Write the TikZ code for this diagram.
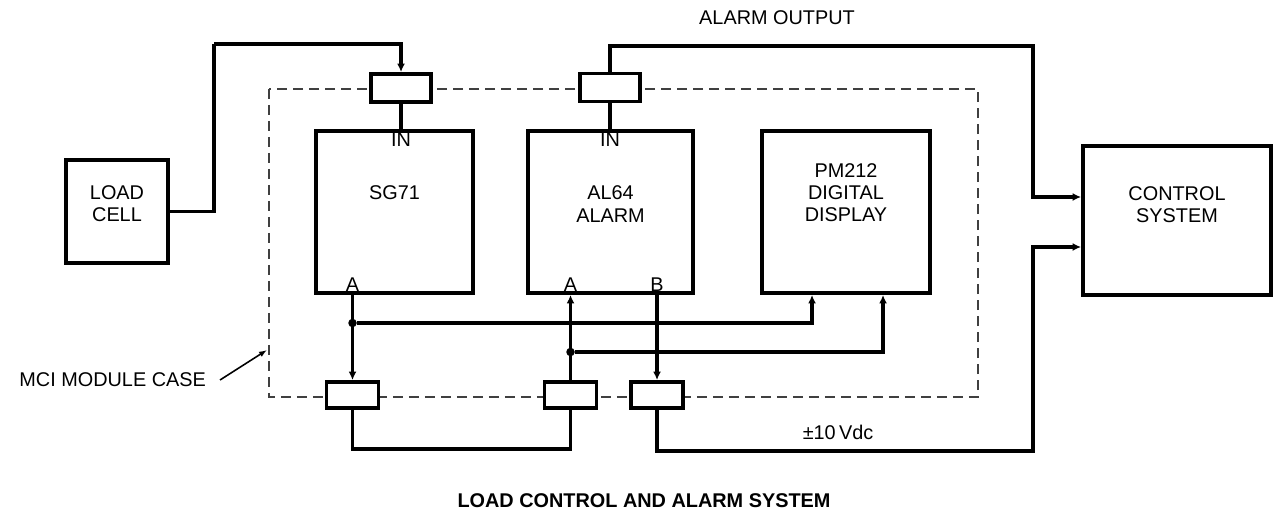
\documentclass[tikz,border=0pt]{standalone}
\usepackage{fontspec}
\setmainfont{Liberation Sans}
\usetikzlibrary{arrows.meta,positioning}
\tikzset{
    box/.style={rectangle, draw, line width=2.2pt, inner sep=0pt},
    wire/.style={line width=2pt},
    flow/.style={wire, -{Latex[length=1.7mm, width=1.6mm]}},
    txt/.style={font=\fontsize{11.3}{12.6}\selectfont, align=center, inner sep=1pt}
}

\begin{document}
\begin{tikzpicture}[
    module/.style={box, minimum width=3.2cm, minimum height=3.24cm},
    plug/.style={box, fill=white, minimum width=1.2cm, minimum height=0.56cm},
    jack/.style={box, fill=white, minimum width=1.04cm, minimum height=0.52cm},
    casing/.style={line width=1.3pt, draw=black!75, dash pattern=on 0.2cm off 0.12cm},
    dot/.style={circle, fill, inner sep=0pt, minimum size=0.17cm}
]
    \useasboundingbox (0,0) rectangle (25.76,-10.28);

    % MCI module case
    \draw[casing] (5.38,-1.78) rectangle (19.56,-7.94);

    % Field devices
    \node[box, minimum width=2.04cm, minimum height=2.06cm] (LC) at (2.34,-4.23) {};
    \node[txt] (LCtxt) at ([yshift=0.15cm]LC.center) {LOAD\\CELL};
    \node[box, minimum width=3.76cm, minimum height=2.98cm] (CS) at (23.54,-4.41) {};
    \node[txt] (CStxt) at ([yshift=0.31cm]CS.center) {CONTROL\\SYSTEM};

    % Modules
    \node[module, minimum width=3.14cm] (SG) at (7.89,-4.24) {};
    \node[txt] (SGtxt) at ([yshift=0.38cm]SG.center) {SG71};
    \node[module, minimum width=3.3cm] (AL) at (12.21,-4.24) {};
    \node[txt] (ALtxt) at ([yshift=0.16cm]AL.center) {AL64\\ALARM};
    \node[module, minimum width=3.36cm] (PM) at (16.92,-4.24) {};
    \node[txt] (PMtxt) at ([yshift=0.38cm]PM.center) {PM212\\DIGITAL\\DISPLAY};

    % Connectors on the case
    \node[plug] (T1) at (8.02,-1.76) {};
    \node[plug] (T2) at (12.2,-1.75) {};
    \node[jack] (B1) at (7.05,-7.9) {};
    \node[jack] (B2) at (11.41,-7.9) {};
    \node[jack] (B3) at (13.14,-7.9) {};

    % Pin labels
    \node[txt, below, inner sep=2pt] (SGin) at (T1.south |- SG.north) {IN};
    \node[txt, below, inner sep=2pt] (ALin) at (T2.south |- AL.north) {IN};
    \node[txt, above, inner sep=2pt] (SGa) at (B1.north |- SG.south) {A};
    \node[txt, above, inner sep=2pt] (ALa) at (B2.north |- AL.south) {A};
    \node[txt, above, inner sep=2pt] (ALb) at (B3.north |- AL.south) {B};

    % Routing points
    \coordinate (lcup) at (4.28,-0.88);
    \coordinate (aout) at (20.66,-0.92);
    \coordinate (vret) at (20.66,-9.02);
    \coordinate (loop) at (7.05,-8.98);
    \node[dot] (J1) at (7.05,-6.46) {};
    \node[dot] (J2) at (11.41,-7.04) {};

    % Signal input
    \draw[wire] (LC.east) -| (lcup);
    \draw[flow] (lcup) -| (T1.north);
    \draw[wire] (T1.south) -- (T1.south |- SG.north);
    \draw[wire] (T2.south) -- (T2.south |- AL.north);

    % Alarm output
    \draw[flow] (T2.north) |- (aout) |- ([yshift=0.47cm]CS.west);
    \draw[flow] (B3.south) |- (vret) |- ([yshift=-0.53cm]CS.west);

    % Internal wiring
    \draw[flow] (B1.north |- SG.south) -- (B1.north);
    \draw[flow] (J1) -| ([xshift=-0.68cm]PM.south);
    \draw[flow] (B2.north) -- (B2.north |- AL.south);
    \draw[flow] (J2) -| ([xshift=0.74cm]PM.south);
    \draw[flow] (B3.north |- AL.south) -- (B3.north);
    \draw[wire] (B1.south) |- (loop) -| (B2.south);

    % Texts
    \node[txt] (AOtxt) at (15.54,-0.36) {ALARM OUTPUT};
    \node[txt] (Vtxt) at (16.76,-8.64) {±10\,Vdc};
    \node[txt, anchor=east] (MCI) at (4.16,-7.6) {MCI MODULE CASE};
    \coordinate (casept) at (5.34,-7.0);
    \draw[line width=0.9pt, -{Latex[length=1.6mm, width=1.2mm]}] ([xshift=0.24cm]MCI.east) -- (casept);
    \node[txt, font=\fontsize{11.3}{12.6}\selectfont\bfseries] (title) at (12.88,-10.02) {LOAD CONTROL AND ALARM SYSTEM};
\end{tikzpicture}
\end{document}
